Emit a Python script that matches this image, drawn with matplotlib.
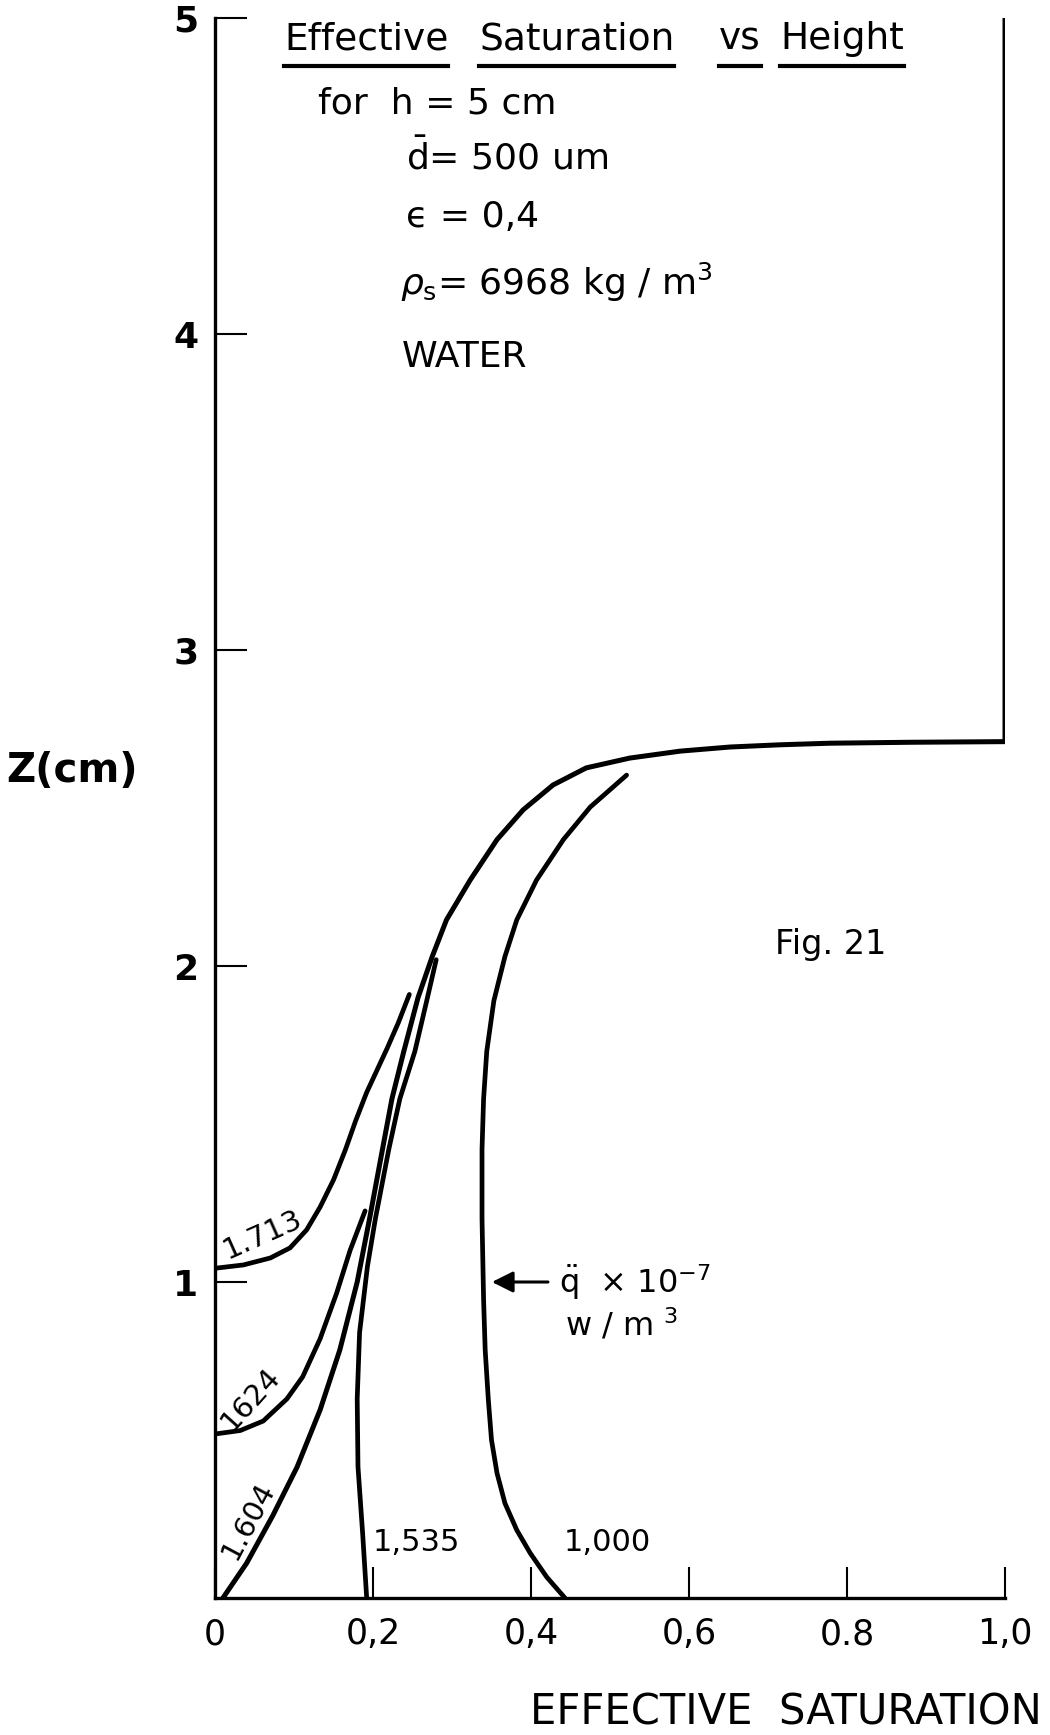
import matplotlib
matplotlib.use("Agg")
import matplotlib.pyplot as plt

# effective saturation (x) vs height z in cm for each q-dot value
q_1713_s = [0.002, 0.036, 0.070, 0.095, 0.116, 0.133, 0.150, 0.165, 0.178, 0.192, 0.205, 0.218, 0.232, 0.246]
q_1713_z = [1.044, 1.054, 1.076, 1.108, 1.165, 1.237, 1.323, 1.418, 1.510, 1.600, 1.670, 1.740, 1.820, 1.910]

q_1624_s = [0.003, 0.032, 0.061, 0.091, 0.111, 0.133, 0.154, 0.171, 0.190]
q_1624_z = [0.520, 0.530, 0.560, 0.630, 0.700, 0.820, 0.965, 1.100, 1.225]

# the 1.604 curve runs on into the saturated plateau
q_1604_s = [0.010, 0.040, 0.073, 0.104, 0.133, 0.158, 0.180, 0.196, 0.212, 0.224,
            0.239, 0.257, 0.275, 0.293, 0.323, 0.357, 0.390, 0.428, 0.470, 0.525,
            0.589, 0.652, 0.715, 0.778, 0.880, 1.000, 1.000]
q_1604_z = [0.000, 0.110, 0.260, 0.415, 0.595, 0.785, 1.000, 1.205, 1.420, 1.580,
            1.730, 1.900, 2.030, 2.146, 2.272, 2.400, 2.494, 2.573, 2.627, 2.658,
            2.680, 2.693, 2.700, 2.705, 2.708, 2.710, 5.000]

q_1535_s = [0.192, 0.187, 0.181, 0.180, 0.183, 0.193, 0.203, 0.220, 0.234, 0.253, 0.268, 0.280]
q_1535_z = [0.000, 0.200, 0.415, 0.630, 0.840, 1.050, 1.200, 1.420, 1.580, 1.730, 1.890, 2.020]

q_1000_s = [0.443, 0.420, 0.399, 0.382, 0.367, 0.357, 0.350, 0.346, 0.342, 0.340, 0.338,
            0.338, 0.340, 0.344, 0.353, 0.367, 0.382, 0.407, 0.441, 0.475, 0.521]
q_1000_z = [0.000, 0.066, 0.142, 0.215, 0.300, 0.395, 0.500, 0.627, 0.785, 0.943, 1.200,
            1.420, 1.580, 1.730, 1.890, 2.030, 2.146, 2.272, 2.400, 2.503, 2.604]

x_ticks = [0, 0.2, 0.4, 0.6, 0.8, 1.0]
x_ticklabels = ["0", "0,2", "0,4", "0,6", "0.8", "1,0"]
y_ticks = [1, 2, 3, 4, 5]
y_ticklabels = ["1", "2", "3", "4", "5"]

W, H = 1050, 1735
fig = plt.figure(figsize=(W / 100, H / 100), dpi=100)
ax = fig.add_axes([215 / W, 137 / H, 790 / W, 1580 / H])


def px(x, y):
    # pixel position (from top-left) to figure fraction
    return x / W, 1 - y / H


lw = 3.4
style = dict(color="k", solid_capstyle="round", solid_joinstyle="round")
ax.plot(q_1713_s, q_1713_z, lw=lw, **style)
ax.plot(q_1624_s, q_1624_z, lw=lw, **style)
ax.plot(q_1604_s, q_1604_z, lw=3.6, **style)
ax.plot(q_1535_s, q_1535_z, lw=lw, **style)
ax.plot(q_1000_s, q_1000_z, lw=lw, **style)

ax.set_xlim(0, 1.0)
ax.set_ylim(0, 5)
for side in ["top", "right"]:
    ax.spines[side].set_visible(False)
for side in ["left", "bottom"]:
    ax.spines[side].set_linewidth(2.4)

ax.set_xticks(x_ticks)
ax.set_xticklabels(x_ticklabels, fontsize=25)
ax.set_yticks(y_ticks)
ax.set_yticklabels(y_ticklabels, fontsize=26, fontweight="bold")
ax.tick_params(axis="x", direction="in", length=22, width=1.5, pad=14)
ax.tick_params(axis="y", direction="in", length=23, width=1.5, pad=12)

# curve labels
ax.text(0.060, 1.15, "1.713", fontsize=21, rotation=24, ha="center", va="center")
ax.text(0.045, 0.63, "1624", fontsize=21, rotation=48, ha="center", va="center")
ax.text(0.042, 0.245, "1.604", fontsize=21, rotation=62, ha="center", va="center")
ax.text(0.200, 0.175, "1,535", fontsize=22, ha="left", va="center")
ax.text(0.442, 0.175, "1,000", fontsize=22, ha="left", va="center")

ax.annotate("", xy=(0.347, 1.0), xytext=(0.425, 1.0),
            arrowprops=dict(arrowstyle="-|>", color="k", lw=2.2, mutation_scale=32))
ax.text(0.435, 1.0, r"$\ddot{\mathrm{q}}$  × 10$^{-7}$", fontsize=23, ha="left", va="center")
ax.text(0.443, 0.865, r"w / m $^{3}$", fontsize=23, ha="left", va="center")

# heading, each word underlined
words = ["Effective", "Saturation", "vs", "Height"]
word_x = [284, 479, 719, 780]
word_txt = [fig.text(*px(x, 39), w, fontsize=27, ha="left", va="center") for w, x in zip(words, word_x)]
fig.canvas.draw()
inv = fig.transFigure.inverted()
for t in word_txt:
    bb = t.get_window_extent().transformed(inv)
    fig.add_artist(plt.Line2D([bb.x0, bb.x1], [1 - 66 / H] * 2, color="k", lw=3,
                              transform=fig.transFigure))

fig.text(*px(318, 103), "for  h = 5 cm", fontsize=26, ha="left", va="center")
fig.text(*px(406, 157), r"$\bar{\mathrm{d}}$= 500 um", fontsize=26, ha="left", va="center")
fig.text(*px(406, 217), "ϵ = 0,4", fontsize=26, ha="left", va="center")
fig.text(*px(400, 282), r"$\rho_{\mathrm{s}}$= 6968 kg / m$^{3}$", fontsize=26, ha="left", va="center")
fig.text(*px(402, 357), "WATER", fontsize=26, ha="left", va="center")
fig.text(*px(775, 944), "Fig. 21", fontsize=24, ha="left", va="center")

fig.text(*px(6, 771), "Z(cm)", fontsize=29, fontweight="bold", ha="left", va="center")
fig.text(*px(1042, 1712), "EFFECTIVE  SATURATION", fontsize=30, ha="right", va="center")

fig.savefig("out.png", dpi=100, facecolor="white")
